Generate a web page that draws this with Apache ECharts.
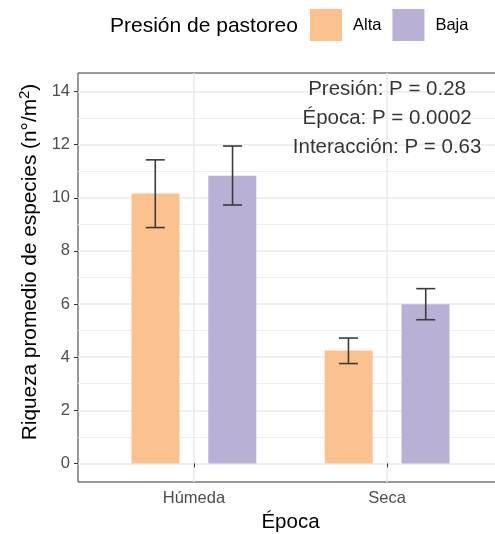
<!DOCTYPE html>
<html><head><meta charset="utf-8">
<script src="https://cdn.jsdelivr.net/npm/echarts@6/dist/echarts.min.js"></script>
<style>html,body{margin:0;padding:0;background:#fff}#c{width:495px;height:534px}</style>
</head><body><div id="c"></div>
<script>
// ---- data ----
const categories = ['Húmeda', 'Seca'];
const groups = ['Alta', 'Baja'];
const altaMean  = [10.16, 4.25];
const altaLower = [8.88, 3.76];
const altaUpper = [11.43, 4.72];
const bajaMean  = [10.83, 5.99];
const bajaLower = [9.73, 5.41];
const bajaUpper = [11.95, 6.58];
const yTicks = [0, 2, 4, 6, 8, 10, 12, 14];
const yMinorTicks = [1, 3, 5, 7, 9, 11, 13];
const annotations = ['Presión: P = 0.28', 'Época: P = 0.0002', 'Interacción: P = 0.63'];
const annotationY = [14.1, 13.0, 11.9];
const annotationCategory = 'Seca';

// ---- styling ----
const FONT = "'Liberation Sans', Arial, sans-serif";
const colors = ['#FBC28F', '#BAAFD4'];
const dodge = 0.2;

const xPos = categories.map((c, i) => i + 1);
const catIndex = {};
categories.forEach((c, i) => catIndex[c] = i + 1);

function barData(vals) { return vals.map((v, i) => [xPos[i], v]); }
function errData(lo, hi) { return lo.map((v, i) => [xPos[i], v, hi[i]]); }
function errRender(offset) {
  return function (params, api) {
    const x = api.value(0) + offset;
    const lo = api.coord([x, api.value(1)]);
    const hi = api.coord([x, api.value(2)]);
    const hw = 9.5;
    const st = { stroke: '#3b3b3b', lineWidth: 1.6 };
    return { type: 'group', children: [
      { type: 'line', shape: { x1: lo[0], y1: lo[1], x2: hi[0], y2: hi[1] }, style: st },
      { type: 'line', shape: { x1: lo[0] - hw, y1: lo[1], x2: lo[0] + hw, y2: lo[1] }, style: st },
      { type: 'line', shape: { x1: hi[0] - hw, y1: hi[1], x2: hi[0] + hw, y2: hi[1] }, style: st }
    ]};
  };
}

const chart = echarts.init(document.getElementById('c'), null, { renderer: 'canvas' });
chart.setOption({
  animation: false,
  backgroundColor: '#ffffff',
  textStyle: { fontFamily: FONT },
  title: {
    text: 'Presión de pastoreo', left: 110, top: 16, padding: 0,
    textStyle: { fontFamily: FONT, fontSize: 21, fontWeight: 'normal', color: '#000' }
  },
  legend: {
    data: groups, left: 310, top: 9, padding: 0, itemWidth: 32, itemHeight: 32, itemGap: 11,
    icon: 'rect', selectedMode: false,
    textStyle: { fontFamily: FONT, fontSize: 16.5, color: '#000', padding: [2, 0, 0, 6] }
  },
  grid: {
    left: 78, top: 73, width: 425, height: 409, containLabel: false, outerBoundsMode: 'none',
    show: true, borderColor: '#333333', borderWidth: 1, backgroundColor: '#fff'
  },
  xAxis: {
    type: 'value', min: 0.4, max: 2.6,
    name: 'Época', nameLocation: 'middle', nameGap: 30,
    nameTextStyle: { fontFamily: FONT, fontSize: 20.5, color: '#000' },
    axisLine: { show: false },
    axisTick: { show: true, length: 4, customValues: xPos, lineStyle: { color: '#333', width: 1 } },
    axisLabel: { customValues: xPos, margin: 8, fontSize: 16.5, color: '#4D4D4D', fontFamily: FONT,
      formatter: v => categories[Math.round(v) - 1] },
    splitLine: { show: true, lineStyle: { color: '#E9EBEB', width: 1.5 } }
  },
  yAxis: [{
    type: 'value', min: -0.7, max: 14.7,
    name: '{a|Riqueza promedio de especies (n°/m}{s|2}{a|)}', nameLocation: 'middle', nameGap: 29,
    nameTextStyle: { fontFamily: FONT, color: '#000', padding: [0, 0, 0, 31],
      rich: { a: { fontFamily: FONT, fontSize: 20.8, color: '#000', lineHeight: 25 },
              s: { fontFamily: FONT, fontSize: 15, color: '#000', verticalAlign: 'top', lineHeight: 15 } } },
    axisLine: { show: false },
    axisTick: { show: true, length: 4, customValues: yTicks, lineStyle: { color: '#333', width: 1 } },
    axisLabel: { customValues: yTicks, margin: 8, fontSize: 16.5, color: '#4D4D4D', fontFamily: FONT },
    splitLine: { show: true, lineStyle: { color: '#E9EBEB', width: 1.5 } }
  }, {
    type: 'value', min: -0.7, max: 14.7, position: 'left',
    axisLine: { show: false }, axisLabel: { show: false },
    axisTick: { show: false, customValues: yMinorTicks },
    splitLine: { show: true, lineStyle: { color: '#EDEFEF', width: 1 } }
  }],
  series: [
    { name: groups[0], type: 'bar', data: barData(altaMean), barWidth: 48, barGap: '60%',
      itemStyle: { color: colors[0] }, z: 2 },
    { name: groups[1], type: 'bar', data: barData(bajaMean), barWidth: 48, barGap: '60%',
      itemStyle: { color: colors[1] }, z: 2 },
    { type: 'custom', renderItem: errRender(-dodge), data: errData(altaLower, altaUpper),
      encode: { x: 0, y: [1, 2] }, z: 3, silent: true },
    { type: 'custom', renderItem: errRender(dodge), data: errData(bajaLower, bajaUpper),
      encode: { x: 0, y: [1, 2] }, z: 3, silent: true },
    { type: 'scatter', symbolSize: 0, silent: true, z: 4,
      data: annotations.map((t, i) => [catIndex[annotationCategory], annotationY[i], t]),
      label: { show: true, position: 'inside', formatter: p => p.value[2],
        fontFamily: FONT, fontSize: 20.5, color: '#000' } }
  ]
});
</script></body></html>
